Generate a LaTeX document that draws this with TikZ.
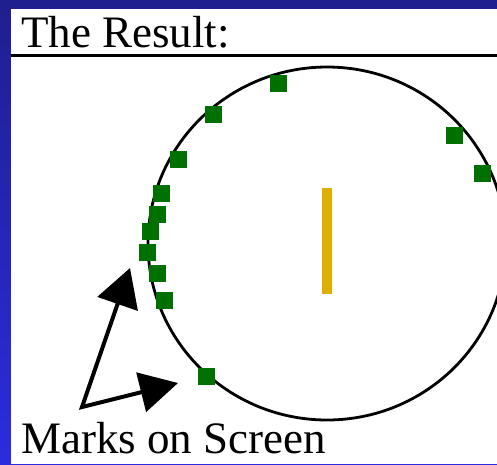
\documentclass[tikz,border=0pt]{standalone}
\usepackage{fontspec}
\setmainfont{Liberation Serif}
\usetikzlibrary{arrows.meta}
\definecolor{bgtop}{RGB}{31,31,143}
\definecolor{bgbot}{RGB}{44,44,222}
\definecolor{markgreen}{RGB}{0,112,0}
\definecolor{barcol}{RGB}{224,174,0}
\begin{document}
\begin{tikzpicture}[x=1pt,y=-1pt,
  greenmark/.style={fill=markgreen, minimum size=17pt, inner sep=0pt, draw=none, rectangle},
  caption/.style={font=\fontsize{45}{50}\selectfont, inner sep=0pt, anchor=base west},
  pointer/.style={line width=4pt, miter limit=10,
    {Triangle[length=38pt,width=42pt]}-{Triangle[length=38pt,width=40pt]}}]
\useasboundingbox (0,0) rectangle (497,464);
\clip (0,0) rectangle (497,464);
\shade[top color=bgtop, bottom color=bgbot] (0,0) rectangle (497,464);
\fill[white] (11,9) rectangle (497,464);
\draw[line width=3pt] (11,55) -- (497,55);
\node[caption] (title) at (21,47) {The Result:};
\draw[line width=2.8pt] (327,243.5) ellipse [x radius=179, y radius=176.5];
\fill[barcol] (322,188) rectangle (332,294);
\foreach \px/\py [count=\i] in {278.5/83.5, 213/114.5, 178.5/159, 161.5/193.5, 157.5/214.5,
  150.5/231.5, 147.5/252.5, 157.5/273, 164.5/300.5, 206/376.5, 454.5/135, 482/173}
  \node[greenmark] (m\i) at (\px,\py) {};
\coordinate (corner) at (82,407);
\coordinate (tipA) at (130,268);
\coordinate (tipB) at (178,383);
\draw[pointer] (tipA) -- (corner) -- (tipB);
\node[caption] (marks) at (21,453) {Marks on Screen};
\end{tikzpicture}
\end{document}
